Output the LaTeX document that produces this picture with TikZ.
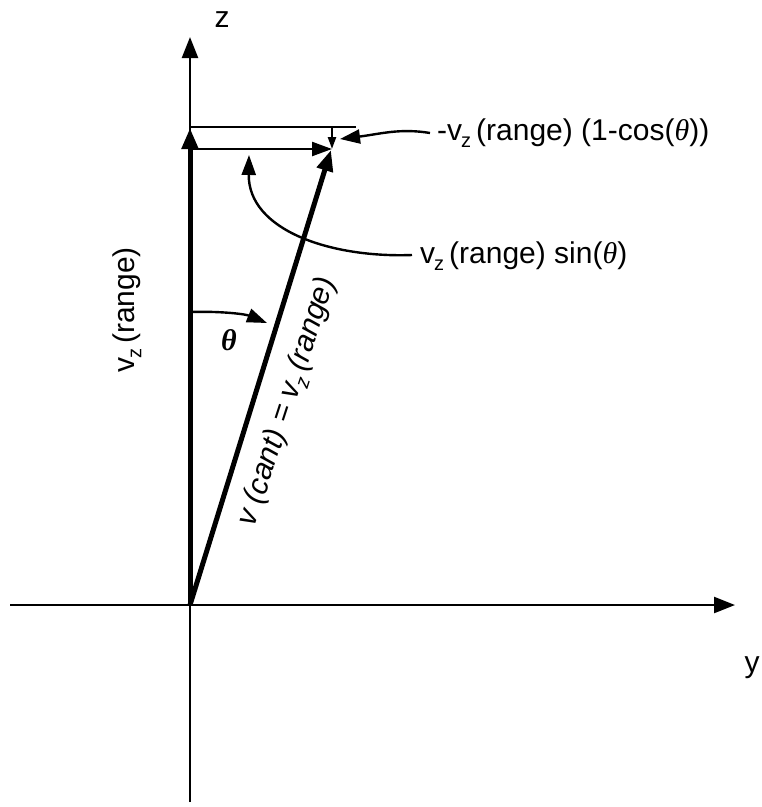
\documentclass[tikz,border=0pt]{standalone}
\usepackage{fontspec}
\setmainfont{Liberation Sans}
\newfontfamily\thfont{Liberation Serif}
\usetikzlibrary{arrows.meta}
\newcommand{\vsub}{v\kern-1pt\raisebox{-0.45ex}{\fontsize{20}{20}\selectfont z}}
\newcommand{\thetaglyph}{{\thfont\itshape θ}}
\begin{document}
\begin{tikzpicture}[x=1pt,y=-1pt,
  lab/.style={font=\fontsize{30}{33}\selectfont, inner sep=0pt},
  thinline/.style={line width=2.4pt},
  thickline/.style={line width=5pt},
  bigtip/.style={-{Triangle[length=21pt,width=16pt]}},
  midtip/.style={-{Triangle[length=20pt,width=14pt]}},
  smalltip/.style={-{Triangle[length=12pt,width=8pt]}}]
\useasboundingbox (0,0) rectangle (762,807);
% axes
\coordinate (zb) at (190,802);
\coordinate (zt) at (190,37);
\coordinate (yl) at (10,605);
\coordinate (yr) at (735,605);
\coordinate (O) at (190,605);
\draw[thinline,bigtip] (zb) -- (zt);
\draw[thinline,bigtip] (yl) -- (yr);
\node[lab] (zlab) at (222,20) {z};
\node[lab] (ylab) at (752,668) {y};
% vectors
\coordinate (vtip) at (190,128);
\coordinate (ctip) at (331,150);
\draw[thickline,bigtip] (O) -- (vtip);
\draw[thickline,bigtip] (O) -- (ctip);
% top construction
\coordinate (tl) at (190,127);
\coordinate (tr) at (356,127);
\coordinate (tv) at (332,127);
\coordinate (hl) at (190,149);
\coordinate (hr) at (332,149);
\draw[thinline] (tl) -- (tr);
\draw[thinline,midtip] (hl) -- (hr);
\draw[thinline,smalltip] (tv) -- (hr);
% labels with arrows
\node[lab,anchor=west] (coslab) at (437,133) {-\vsub\,(range) (1-cos(\thetaglyph))};
\coordinate (costip) at (340,139);
\coordinate (cs) at (430,133);
\draw[thinline,midtip] (cs) .. controls (400,128) and (380,134) .. (costip);
\node[lab,anchor=west] (sinlab) at (420,256) {\vsub\,(range) sin(\thetaglyph)};
\coordinate (sintip) at (249,155);
\coordinate (ss) at (412,255);
\draw[thinline,midtip] (ss) .. controls (330,258) and (248,230) .. (sintip);
% theta
\coordinate (ta) at (190,312);
\coordinate (tb) at (267,323);
\draw[thinline,midtip] (ta) .. controls (220,311) and (245,314) .. (tb);
\node[inner sep=0pt,font=\fontsize{30}{33}\thfont\bfseries\itshape] (thlab) at (229,340) {θ};
% rotated labels
\node[lab,rotate=90] (vzlab) at (127,310) {\vsub\,(range)};
\node[lab,rotate=72,font=\fontsize{30}{33}\selectfont\itshape] (vclab) at (288,402) {v (cant) = \vsub\,(range)};
\end{tikzpicture}
\end{document}
